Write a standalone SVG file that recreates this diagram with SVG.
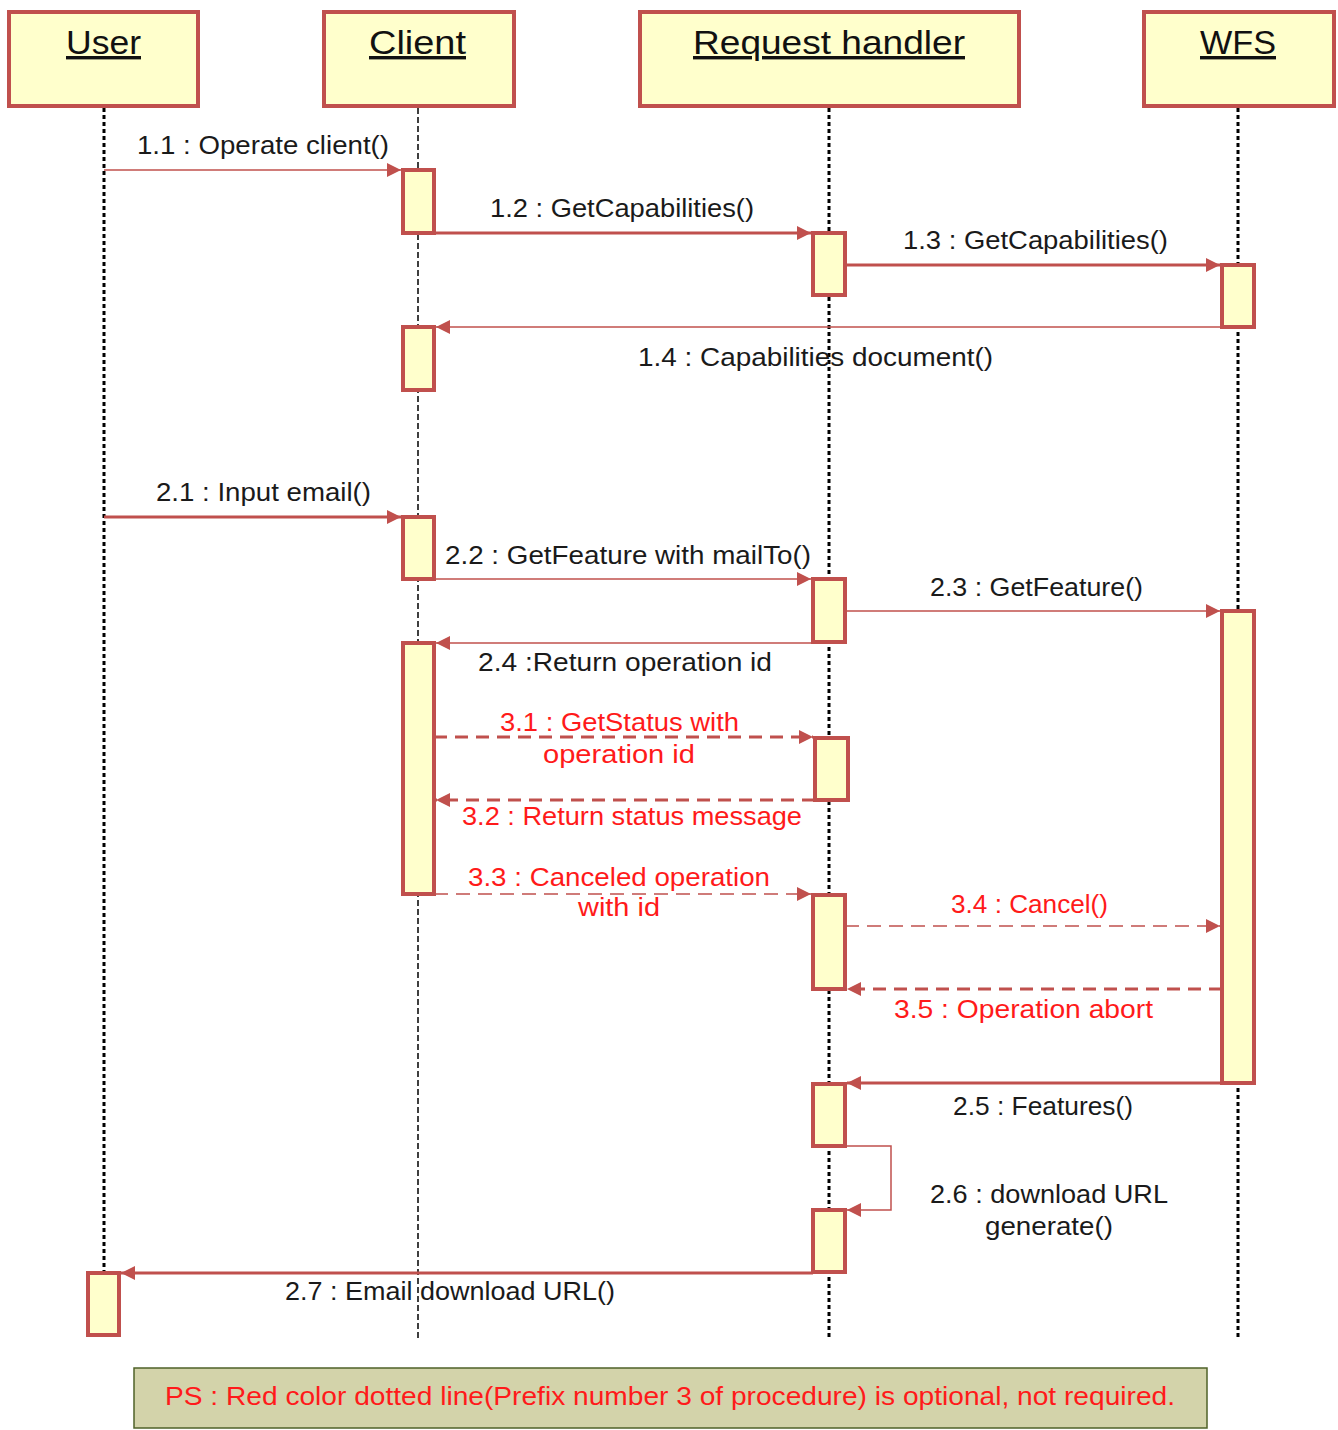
<svg xmlns="http://www.w3.org/2000/svg" width="1338" height="1430" viewBox="0 0 1338 1430">
  <style>
    .head { fill: #FFFFCC; stroke: #C0504D; stroke-width: 4; }
    .act { fill: #FFFFCC; stroke: #C0504D; stroke-width: 4; }
    .title { font-family: "Liberation Sans", "Noto Sans", Arial, sans-serif; font-size: 34px; fill: #111; text-anchor: middle; text-decoration: underline; }
    .life { stroke: #000; stroke-width: 3; stroke-dasharray: 4 3; fill: none; }
    .life-thin { stroke: #000; stroke-width: 1.5; stroke-dasharray: 6 3; fill: none; }
    .msg { stroke: #C0504D; fill: none; stroke-width: 1.5; }
    .msg-bold { stroke: #C0504D; fill: none; stroke-width: 3; }
    .opt { stroke: #C0504D; fill: none; stroke-width: 3; stroke-dasharray: 13 8; }
    .opt-thin { stroke: #C0504D; fill: none; stroke-width: 1.5; stroke-dasharray: 14 8; }
    .lbl { font-family: "Liberation Sans", "Noto Sans", Arial, sans-serif; font-size: 25px; fill: #1a1a1a; text-anchor: middle; }
    .lbl-red { font-family: "Liberation Sans", "Noto Sans", Arial, sans-serif; font-size: 25px; fill: #FF1A1A; text-anchor: middle; }
  </style>
  <defs>
    <marker id="arrow" markerUnits="userSpaceOnUse" markerWidth="16" markerHeight="14" refX="14" refY="7" orient="auto">
      <path d="M0,0 L14,7 L0,14 z" fill="#C0504D"/>
    </marker>
  </defs>

  <rect width="1338" height="1430" fill="#fff"/>

  <!-- User -->
  <g id="user">
    <rect class="head" x="9" y="12" width="189" height="94"/>
    <text class="title" x="103.5" y="54" textLength="75" lengthAdjust="spacingAndGlyphs">User</text>
    <line class="life" x1="104" y1="108" x2="104" y2="1273"/>
    <rect class="act" x="88" y="1273" width="31" height="62"/>
  </g>

  <!-- Client -->
  <g id="client">
    <rect class="head" x="324" y="12" width="190" height="94"/>
    <text class="title" x="417.5" y="54" textLength="97" lengthAdjust="spacingAndGlyphs">Client</text>
    <line class="life-thin" x1="418" y1="108" x2="418" y2="1338"/>
    <rect class="act" x="403" y="170" width="31" height="63"/>
    <rect class="act" x="403" y="327" width="31" height="63"/>
    <rect class="act" x="403" y="517" width="31" height="62"/>
    <rect class="act" x="403" y="643" width="31" height="251"/>
  </g>

  <!-- Request handler -->
  <g id="request-handler">
    <rect class="head" x="640" y="12" width="379" height="94"/>
    <text class="title" x="829" y="54" textLength="272" lengthAdjust="spacingAndGlyphs">Request handler</text>
    <line class="life" x1="829" y1="108" x2="829" y2="1338"/>
    <rect class="act" x="813" y="233" width="32" height="62"/>
    <rect class="act" x="813" y="579" width="32" height="63"/>
    <rect class="act" x="815" y="738" width="33" height="62"/>
    <rect class="act" x="813" y="895" width="32" height="94"/>
    <rect class="act" x="813" y="1084" width="32" height="62"/>
    <rect class="act" x="813" y="1210" width="32" height="62"/>
  </g>

  <!-- WFS -->
  <g id="wfs">
    <rect class="head" x="1144" y="12" width="190" height="94"/>
    <text class="title" x="1238" y="54" textLength="76" lengthAdjust="spacingAndGlyphs">WFS</text>
    <line class="life" x1="1238" y1="108" x2="1238" y2="1338"/>
    <rect class="act" x="1222" y="265" width="32" height="62"/>
    <rect class="act" x="1222" y="611" width="32" height="472"/>
  </g>

  <!-- Messages -->
  <g id="connectors">
    <line class="msg" x1="104" y1="170" x2="401" y2="170" marker-end="url(#arrow)"/>
    <line class="msg-bold" x1="434" y1="233" x2="811" y2="233" marker-end="url(#arrow)"/>
    <line class="msg-bold" x1="845" y1="265" x2="1220" y2="265" marker-end="url(#arrow)"/>
    <line class="msg" x1="1222" y1="327" x2="436" y2="327" marker-end="url(#arrow)"/>
    <line class="msg-bold" x1="104" y1="517" x2="401" y2="517" marker-end="url(#arrow)"/>
    <line class="msg" x1="434" y1="579" x2="811" y2="579" marker-end="url(#arrow)"/>
    <line class="msg" x1="845" y1="611" x2="1220" y2="611" marker-end="url(#arrow)"/>
    <line class="msg" x1="813" y1="643" x2="436" y2="643" marker-end="url(#arrow)"/>
    <line class="opt" x1="434" y1="737" x2="813" y2="737" marker-end="url(#arrow)"/>
    <line class="opt" x1="815" y1="800" x2="436" y2="800" marker-end="url(#arrow)"/>
    <line class="opt-thin" x1="434" y1="894" x2="811" y2="894" marker-end="url(#arrow)"/>
    <line class="opt-thin" x1="845" y1="926" x2="1220" y2="926" marker-end="url(#arrow)"/>
    <line class="opt" x1="1222" y1="989" x2="847" y2="989" marker-end="url(#arrow)"/>
    <line class="msg-bold" x1="1222" y1="1083" x2="847" y2="1083" marker-end="url(#arrow)"/>
    <polyline class="msg" points="845,1146 891,1146 891,1210 847,1210" marker-end="url(#arrow)"/>
    <line class="msg-bold" x1="813" y1="1273" x2="121" y2="1273" marker-end="url(#arrow)"/>
  </g>

  <!-- Message labels -->
  <g id="labels">
    <text class="lbl" x="263" y="154" textLength="252" lengthAdjust="spacingAndGlyphs">1.1 : Operate client()</text>
    <text class="lbl" x="622" y="217" textLength="264" lengthAdjust="spacingAndGlyphs">1.2 : GetCapabilities()</text>
    <text class="lbl" x="1035.5" y="249" textLength="265" lengthAdjust="spacingAndGlyphs">1.3 : GetCapabilities()</text>
    <text class="lbl" x="815.5" y="366" textLength="355" lengthAdjust="spacingAndGlyphs">1.4 : Capabilities document()</text>
    <text class="lbl" x="263.5" y="501" textLength="215" lengthAdjust="spacingAndGlyphs">2.1 : Input email()</text>
    <text class="lbl" x="628" y="564" textLength="366" lengthAdjust="spacingAndGlyphs">2.2 : GetFeature with mailTo()</text>
    <text class="lbl" x="1036.5" y="596" textLength="213" lengthAdjust="spacingAndGlyphs">2.3 : GetFeature()</text>
    <text class="lbl" x="625" y="671" textLength="294" lengthAdjust="spacingAndGlyphs">2.4 :Return operation id</text>
    <text class="lbl-red" x="619.5" y="731" textLength="239" lengthAdjust="spacingAndGlyphs">3.1 : GetStatus with</text>
    <text class="lbl-red" x="619" y="763" textLength="152" lengthAdjust="spacingAndGlyphs">operation id</text>
    <text class="lbl-red" x="632" y="825" textLength="340" lengthAdjust="spacingAndGlyphs">3.2 : Return status message</text>
    <text class="lbl-red" x="619" y="886" textLength="302" lengthAdjust="spacingAndGlyphs">3.3 : Canceled operation</text>
    <text class="lbl-red" x="619" y="916" textLength="82" lengthAdjust="spacingAndGlyphs">with id</text>
    <text class="lbl-red" x="1029.5" y="913" textLength="157" lengthAdjust="spacingAndGlyphs">3.4 : Cancel()</text>
    <text class="lbl-red" x="1023.5" y="1018" textLength="259" lengthAdjust="spacingAndGlyphs">3.5 : Operation abort</text>
    <text class="lbl" x="1043" y="1115" textLength="180" lengthAdjust="spacingAndGlyphs">2.5 : Features()</text>
    <text class="lbl" x="1049" y="1203" textLength="238" lengthAdjust="spacingAndGlyphs">2.6 : download URL</text>
    <text class="lbl" x="1049" y="1235" textLength="128" lengthAdjust="spacingAndGlyphs">generate()</text>
    <text class="lbl" x="450" y="1300" textLength="330" lengthAdjust="spacingAndGlyphs">2.7 : Email download URL()</text>
  </g>

  <!-- Footnote -->
  <g id="note">
    <rect x="134" y="1368" width="1073" height="60" fill="#D3D3AA" stroke="#4F6228" stroke-width="1.5"/>
    <text class="lbl-red" x="670" y="1405" font-size="26" textLength="1010" lengthAdjust="spacingAndGlyphs">PS : Red color dotted line(Prefix number 3 of procedure) is optional, not required.</text>
  </g>
</svg>
